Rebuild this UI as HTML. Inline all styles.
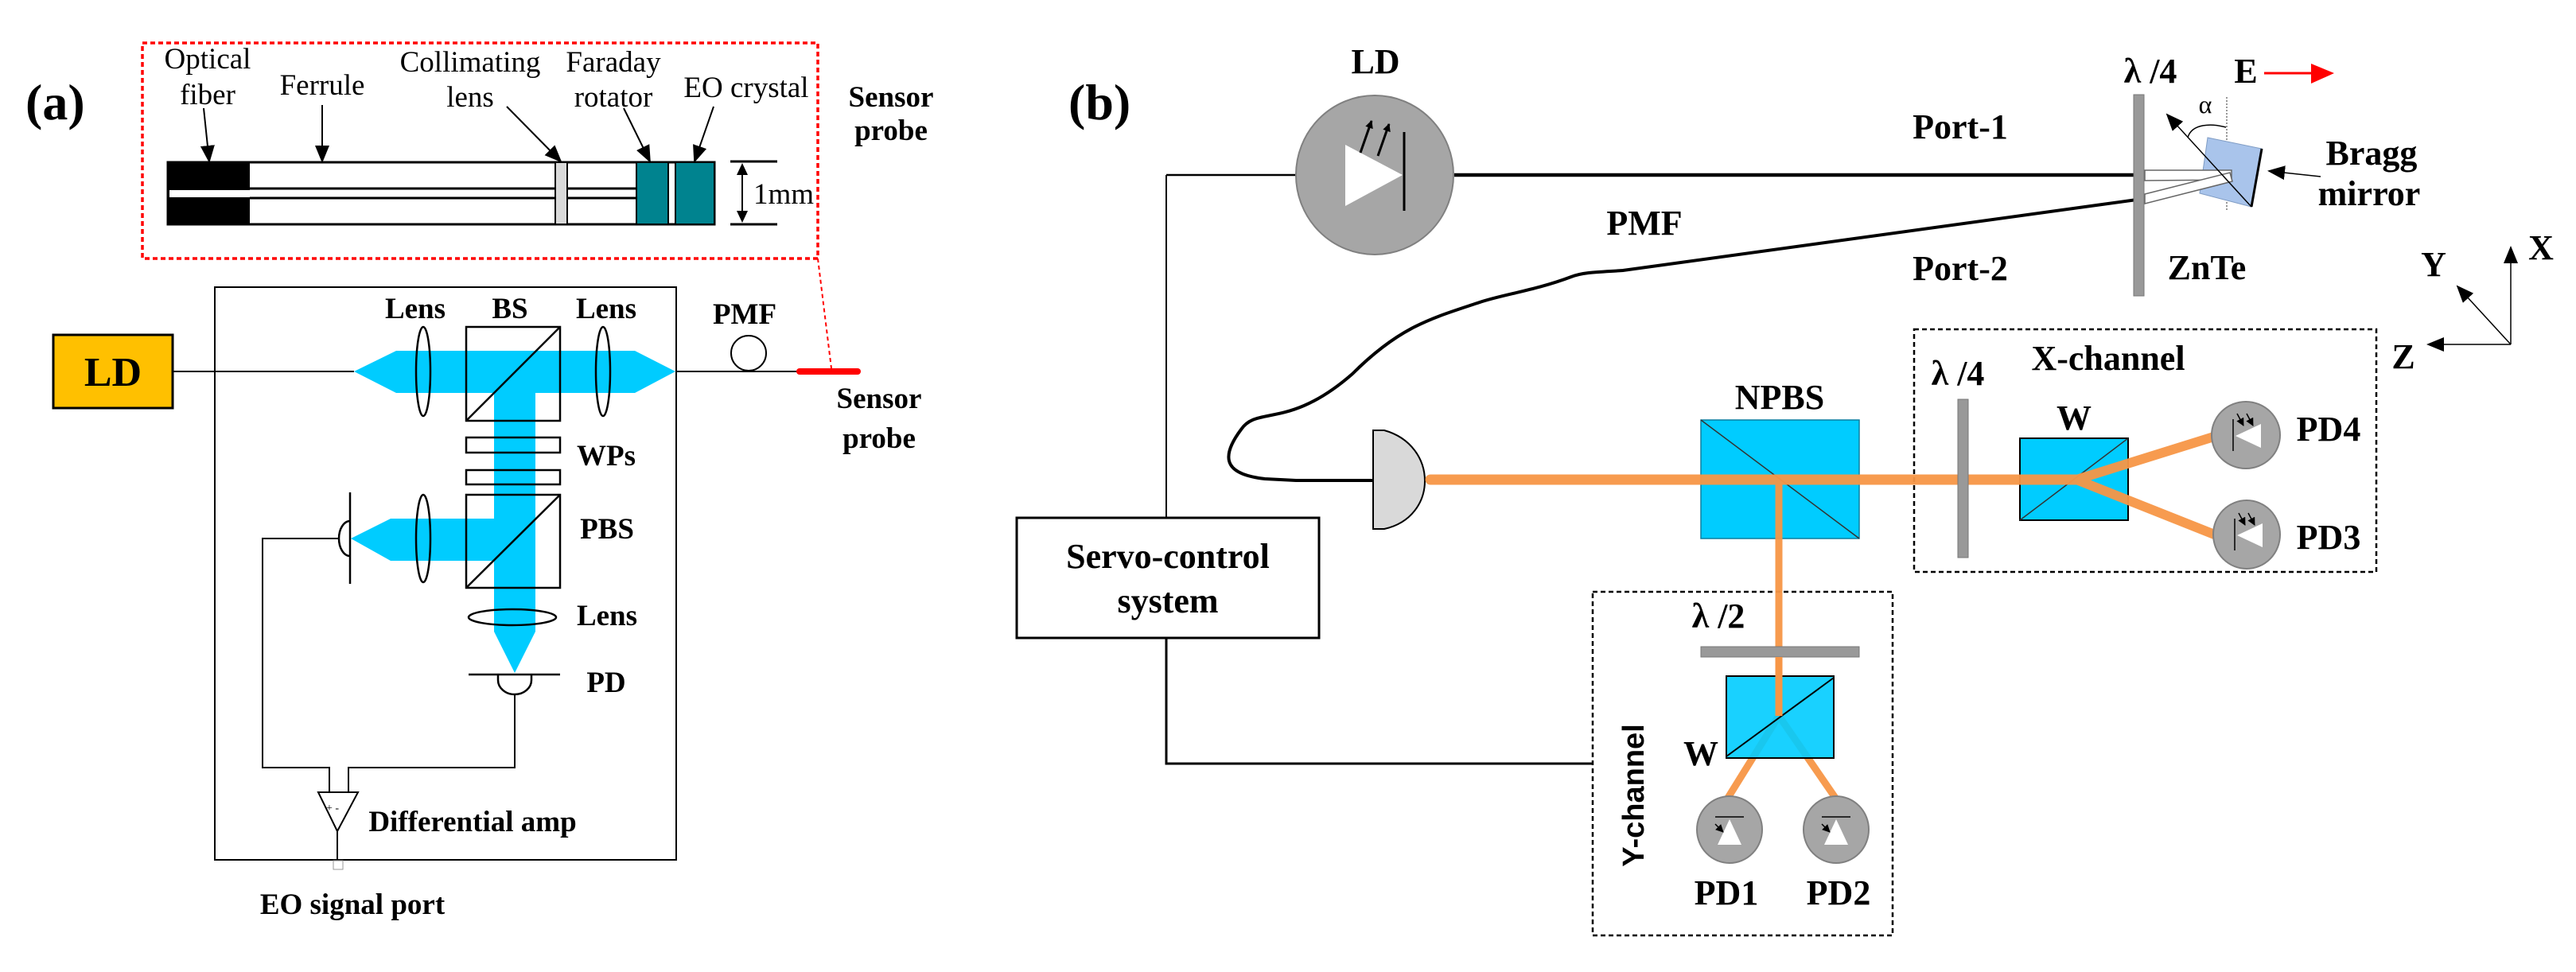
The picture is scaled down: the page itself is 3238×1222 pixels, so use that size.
<!DOCTYPE html>
<html><head><meta charset="utf-8"><style>
html,body{margin:0;padding:0;background:#fff;}
svg{display:block;font-family:"Liberation Serif","Times New Roman",serif;}
svg text{font-family:"Liberation Serif","Times New Roman",serif;fill:#000;}
.b{font-weight:bold;}
</style></head><body>
<svg width="3238" height="1222" viewBox="0 0 3238 1222" xmlns="http://www.w3.org/2000/svg" font-family="Liberation Serif, serif">
<defs>
<marker id="ah" markerWidth="10" markerHeight="10" refX="9" refY="5" orient="auto" markerUnits="userSpaceOnUse"><path d="M0,0 L10,5 L0,10 z" fill="#000"/></marker>
<marker id="ah2" markerWidth="22" markerHeight="18" refX="20" refY="9" orient="auto" markerUnits="userSpaceOnUse"><path d="M0,0 L22,9 L0,18 z" fill="#000"/></marker>
</defs>
<g font-family="Liberation Serif, serif">
<!-- ===== Panel (a) ===== -->
<text x="32" y="150" class="b" font-size="64">(a)</text>
<rect x="179" y="54" width="849" height="271" fill="none" stroke="#f00" stroke-width="3.5" stroke-dasharray="6,4"/>
<g font-size="37">
<text x="261" y="86" text-anchor="middle">Optical</text>
<text x="261" y="131" text-anchor="middle">fiber</text>
<text x="405" y="119" text-anchor="middle">Ferrule</text>
<text x="591" y="90" text-anchor="middle">Collimating</text>
<text x="591" y="134" text-anchor="middle">lens</text>
<text x="771" y="90" text-anchor="middle">Faraday</text>
<text x="771" y="134" text-anchor="middle">rotator</text>
<text x="938" y="122" text-anchor="middle">EO crystal</text>
<text x="985" y="256" text-anchor="middle">1mm</text>
</g>
<g stroke="#000" stroke-width="2" marker-end="url(#ah2)">
<line x1="256" y1="136" x2="263" y2="203"/>
<line x1="405" y1="132" x2="405" y2="203"/>
<line x1="637" y1="134" x2="705" y2="203"/>
<line x1="784" y1="136" x2="817" y2="203"/>
<line x1="897" y1="134" x2="873" y2="203"/>
</g>
<rect x="211" y="204" width="687" height="78" fill="#fff" stroke="#000" stroke-width="3"/>
<rect x="211" y="204" width="103" height="78" fill="#000"/>
<line x1="211" y1="237" x2="800" y2="237" stroke="#000" stroke-width="3"/>
<line x1="211" y1="249" x2="800" y2="249" stroke="#000" stroke-width="3"/>
<rect x="213" y="239" width="101" height="9" fill="#fff"/>
<rect x="698" y="204" width="15" height="78" fill="#d9d9d9" stroke="#000" stroke-width="2"/>
<rect x="800" y="204" width="40" height="78" fill="#00838f" stroke="#000" stroke-width="2"/>
<rect x="849" y="204" width="49" height="78" fill="#00838f" stroke="#000" stroke-width="2"/>
<line x1="918" y1="203" x2="977" y2="203" stroke="#000" stroke-width="3"/>
<line x1="918" y1="282" x2="977" y2="282" stroke="#000" stroke-width="3"/>
<line x1="933" y1="215" x2="933" y2="270" stroke="#000" stroke-width="2"/>
<path d="M926,220 L933,205 L940,220 z M926,265 L933,280 L940,265 z" fill="#000"/>
<text x="1120" y="134" class="b" font-size="37" text-anchor="middle">Sensor</text>
<text x="1120" y="176" class="b" font-size="37" text-anchor="middle">probe</text>
<!-- main box -->
<rect x="270" y="361" width="580" height="720" fill="none" stroke="#000" stroke-width="2"/>
<rect x="67" y="421" width="150" height="92" fill="#ffc000" stroke="#000" stroke-width="3"/>
<text x="142" y="485" class="b" font-size="52" text-anchor="middle">LD</text>
<line x1="217" y1="467" x2="445" y2="467" stroke="#000" stroke-width="2"/>
<polygon points="445,467 498,441 798,441 849,467 798,494 673,494 673,794 647,846 621,794 621,705 491,705 441,677 491,652 621,652 621,494 498,494" fill="#00ccff"/>
<g font-size="37" class="b">
<text x="522" y="400" text-anchor="middle">Lens</text>
<text x="641" y="400" text-anchor="middle">BS</text>
<text x="762" y="400" text-anchor="middle">Lens</text>
<text x="936" y="407" text-anchor="middle">PMF</text>
<text x="1105" y="513" text-anchor="middle">Sensor</text>
<text x="1105" y="563" text-anchor="middle">probe</text>
<text x="762" y="585" text-anchor="middle">WPs</text>
<text x="763" y="677" text-anchor="middle">PBS</text>
<text x="763" y="786" text-anchor="middle">Lens</text>
<text x="762" y="870" text-anchor="middle">PD</text>
<text x="594" y="1045" text-anchor="middle">Differential amp</text>
<text x="443" y="1149" text-anchor="middle">EO signal port</text>
</g>
<g fill="none" stroke="#000" stroke-width="2.5">
<ellipse cx="532" cy="467" rx="9" ry="56"/>
<ellipse cx="758" cy="467" rx="9" ry="56"/>
<rect x="586" y="411" width="118" height="118"/>
<line x1="586" y1="529" x2="704" y2="411"/>
<rect x="586" y="550" width="118" height="19"/>
<rect x="586" y="591" width="118" height="18"/>
<rect x="586" y="622" width="118" height="117"/>
<line x1="586" y1="739" x2="704" y2="622"/>
<ellipse cx="532" cy="677" rx="9" ry="55"/>
<line x1="440" y1="619" x2="440" y2="734"/>
<path d="M440,655 A14,22 0 0 0 440,699"/>
<ellipse cx="644" cy="776" rx="55" ry="10"/>
<line x1="589" y1="848" x2="704" y2="848"/>
<path d="M626,848 L626,855 A21,18 0 0 0 668,855 L668,848"/>
</g>
<line x1="849" y1="467" x2="1003" y2="467" stroke="#000" stroke-width="2"/>
<circle cx="941" cy="444" r="22" fill="#fff" stroke="#000" stroke-width="2"/>
<line x1="1005" y1="467" x2="1078" y2="467" stroke="#f00" stroke-width="8" stroke-linecap="round"/>
<line x1="1028" y1="325" x2="1045" y2="463" stroke="#f00" stroke-width="2" stroke-dasharray="5,4"/>
<g fill="none" stroke="#000" stroke-width="2">
<polyline points="426,677 330,677 330,965 414,965 414,997"/>
<polyline points="647,873 647,965 438,965 438,997"/>
<polygon points="400,996 450,996 424,1045"/>
<line x1="424" y1="1045" x2="424" y2="1082"/>
</g>
<text x="418" y="1020" font-size="14" text-anchor="middle">+ -</text>
<rect x="419" y="1082" width="12" height="11" fill="#fff" stroke="#999" stroke-width="1"/>

<!-- ===== Panel (b) ===== -->
<text x="1343" y="150" class="b" font-size="64">(b)</text>
<text x="1729" y="92" class="b" font-size="44" text-anchor="middle">LD</text>
<line x1="1466" y1="220" x2="1629" y2="220" stroke="#000" stroke-width="2.5"/>
<line x1="1466" y1="220" x2="1466" y2="651" stroke="#000" stroke-width="2"/>
<line x1="1828" y1="220" x2="2686" y2="220" stroke="#000" stroke-width="4.5"/>
<ellipse cx="1728" cy="220" rx="99" ry="100" fill="#a6a6a6" stroke="#808080" stroke-width="2"/>
<polygon points="1691,182 1763,220 1691,259" fill="#fff"/>
<line x1="1765" y1="166" x2="1765" y2="265" stroke="#000" stroke-width="3"/>
<g stroke="#000" stroke-width="3" marker-end="url(#ah)">
<line x1="1710" y1="192" x2="1724" y2="152"/>
<line x1="1732" y1="196" x2="1746" y2="156"/>
</g>
<g class="b" font-size="44">
<text x="2464" y="174" text-anchor="middle">Port-1</text>
<text x="2464" y="352" text-anchor="middle">Port-2</text>
<text x="2774" y="351" text-anchor="middle">ZnTe</text>
<text x="2067" y="295" text-anchor="middle">PMF</text>
<text x="2703" y="104" text-anchor="middle">λ /4</text>
<text x="2823" y="104" text-anchor="middle">E</text>
<text x="2981" y="207" text-anchor="middle">Bragg</text>
<text x="2978" y="258" text-anchor="middle">mirror</text>
</g>
<line x1="2846" y1="92" x2="2910" y2="92" stroke="#f00" stroke-width="3"/>
<polygon points="2905,80 2934,92 2905,105" fill="#f00"/>
<text x="2772" y="142" font-size="32" text-anchor="middle">α</text>
<path d="M2686,251 L2040,340 C2010,342 1990,342 1975,348 C1930,365 1890,370 1860,380 C1800,400 1760,410 1700,470 C1620,540 1580,510 1560,540 C1530,580 1545,597 1590,602 L1629,604 L1726,604" fill="none" stroke="#000" stroke-width="4"/>
<line x1="2799" y1="122" x2="2799" y2="266" stroke="#555" stroke-width="1.2" stroke-dasharray="2,2"/>
<polygon points="2775,173 2843,187 2830,260 2765,243" fill="#a9c4eb" stroke="#7f9cc4" stroke-width="1"/>
<line x1="2843" y1="187" x2="2830" y2="260" stroke="#000" stroke-width="3"/>
<polygon points="2696,214 2805,214 2805,226 2696,227" fill="#fff" stroke="#666" stroke-width="1.5"/>
<polygon points="2696,244 2803,217 2806,228 2696,256" fill="#fff" stroke="#666" stroke-width="1.5"/>
<line x1="2830" y1="260" x2="2724" y2="144" stroke="#000" stroke-width="1.5" marker-end="url(#ah2)"/>
<path d="M2750,173 C2755,155 2780,155 2798,160" fill="none" stroke="#000" stroke-width="1.5"/>
<line x1="2917" y1="222" x2="2852" y2="215" stroke="#000" stroke-width="1.5" marker-end="url(#ah2)"/>
<rect x="2682" y="119" width="13" height="253" fill="#999" stroke="#777" stroke-width="1"/>
<g stroke="#000" stroke-width="1.5" marker-end="url(#ah2)">
<line x1="3156" y1="433" x2="3156" y2="311"/>
<line x1="3156" y1="433" x2="3052" y2="433"/>
<line x1="3156" y1="433" x2="3089" y2="360"/>
</g>
<g class="b" font-size="44">
<text x="3194" y="326" text-anchor="middle">X</text>
<text x="3059" y="347" text-anchor="middle">Y</text>
<text x="3021" y="463" text-anchor="middle">Z</text>
</g>
<rect x="1278" y="651" width="380" height="151" fill="#fff" stroke="#000" stroke-width="3"/>
<text x="1468" y="714" class="b" font-size="44" text-anchor="middle">Servo-control</text>
<text x="1468" y="770" class="b" font-size="44" text-anchor="middle">system</text>
<polyline points="1466,802 1466,960 2002,960" fill="none" stroke="#000" stroke-width="3"/>
<path d="M1726,541 L1740,541 C1808,560 1808,650 1740,665 L1726,665 Z" fill="#d9d9d9" stroke="#000" stroke-width="2"/>
<rect x="2406" y="414" width="581" height="305" fill="none" stroke="#000" stroke-width="2.5" stroke-dasharray="6,4"/>
<rect x="2002" y="744" width="377" height="432" fill="none" stroke="#000" stroke-width="2.5" stroke-dasharray="6,4"/>
<rect x="2138" y="528" width="199" height="149" fill="#00ccff" stroke="#0a7fa0" stroke-width="1.5"/>
<line x1="2138" y1="528" x2="2337" y2="677" stroke="#333" stroke-width="1.5"/>
<text x="2237" y="514" class="b" font-size="44" text-anchor="middle">NPBS</text>
<rect x="2539" y="551" width="136" height="103" fill="#00ccff" stroke="#000" stroke-width="2"/>
<line x1="2539" y1="654" x2="2675" y2="551" stroke="#333" stroke-width="1.5"/>
<text x="2607" y="540" class="b" font-size="44" text-anchor="middle">W</text>
<text x="2461" y="484" class="b" font-size="44" text-anchor="middle">λ /4</text>
<text x="2650" y="465" class="b" font-size="44" text-anchor="middle">X-channel</text>
<g stroke="#f79646" stroke-linecap="round" fill="none" opacity="0.95">
<line x1="1798" y1="603" x2="2610" y2="603" stroke-width="13"/>
<polyline points="2786,548 2610,603 2786,673" stroke-width="12"/>
<line x1="2236" y1="603" x2="2236" y2="903" stroke-width="9"/>
<polyline points="2172,1003 2236,900 2307,1003" stroke-width="9"/>
</g>
<rect x="2461" y="502" width="13" height="199" fill="#999" stroke="#777" stroke-width="1"/>
<g>
<ellipse cx="2823" cy="547" rx="43" ry="42" fill="#a6a6a6" stroke="#808080" stroke-width="2"/>
<polygon points="2810,548 2842,533 2842,563" fill="#fff"/>
<line x1="2807" y1="527" x2="2807" y2="567" stroke="#000" stroke-width="1.5"/>
<line x1="2812" y1="520" x2="2820" y2="535" stroke="#000" stroke-width="1.5" marker-end="url(#ah)"/>
<line x1="2824" y1="520" x2="2832" y2="535" stroke="#000" stroke-width="1.5" marker-end="url(#ah)"/>
<ellipse cx="2824" cy="672" rx="42" ry="43" fill="#a6a6a6" stroke="#808080" stroke-width="2"/>
<polygon points="2812,673 2844,658 2844,688" fill="#fff"/>
<line x1="2809" y1="652" x2="2809" y2="692" stroke="#000" stroke-width="1.5"/>
<line x1="2814" y1="645" x2="2822" y2="660" stroke="#000" stroke-width="1.5" marker-end="url(#ah)"/>
<line x1="2826" y1="645" x2="2834" y2="660" stroke="#000" stroke-width="1.5" marker-end="url(#ah)"/>
</g>
<text x="2927" y="554" class="b" font-size="44" text-anchor="middle">PD4</text>
<text x="2927" y="690" class="b" font-size="44" text-anchor="middle">PD3</text>
<rect x="2138" y="813" width="199" height="13" fill="#999" stroke="#777" stroke-width="1"/>
<text x="2160" y="789" class="b" font-size="44" text-anchor="middle">λ /2</text>
<rect x="2170" y="850" width="135" height="103" fill="#00ccff" stroke="#000" stroke-width="2" fill-opacity="0.9"/>
<line x1="2170" y1="951" x2="2305" y2="852" stroke="#000" stroke-width="2"/>
<line x1="2236" y1="826" x2="2236" y2="900" stroke="#f79646" stroke-width="9"/>
<text x="2138" y="962" class="b" font-size="44" text-anchor="middle">W</text>
<text x="0" y="0" transform="translate(2066,1000) rotate(-90)" font-weight="bold" font-size="38" text-anchor="middle" style="font-family:'Liberation Sans',sans-serif">Y-channel</text>
<g>
<ellipse cx="2174" cy="1043" rx="41" ry="42" fill="#a6a6a6" stroke="#808080" stroke-width="2"/>
<polygon points="2174,1030 2159,1062 2189,1062" fill="#fff"/>
<line x1="2156" y1="1027" x2="2192" y2="1027" stroke="#000" stroke-width="1.5"/>
<line x1="2156" y1="1036" x2="2166" y2="1046" stroke="#000" stroke-width="1.5" marker-end="url(#ah)"/>
<ellipse cx="2308" cy="1043" rx="41" ry="42" fill="#a6a6a6" stroke="#808080" stroke-width="2"/>
<polygon points="2308,1030 2293,1062 2323,1062" fill="#fff"/>
<line x1="2290" y1="1027" x2="2326" y2="1027" stroke="#000" stroke-width="1.5"/>
<line x1="2290" y1="1036" x2="2300" y2="1046" stroke="#000" stroke-width="1.5" marker-end="url(#ah)"/>
</g>
<text x="2170" y="1137" class="b" font-size="44" text-anchor="middle">PD1</text>
<text x="2311" y="1137" class="b" font-size="44" text-anchor="middle">PD2</text>
</g>
</svg>
</body></html>
